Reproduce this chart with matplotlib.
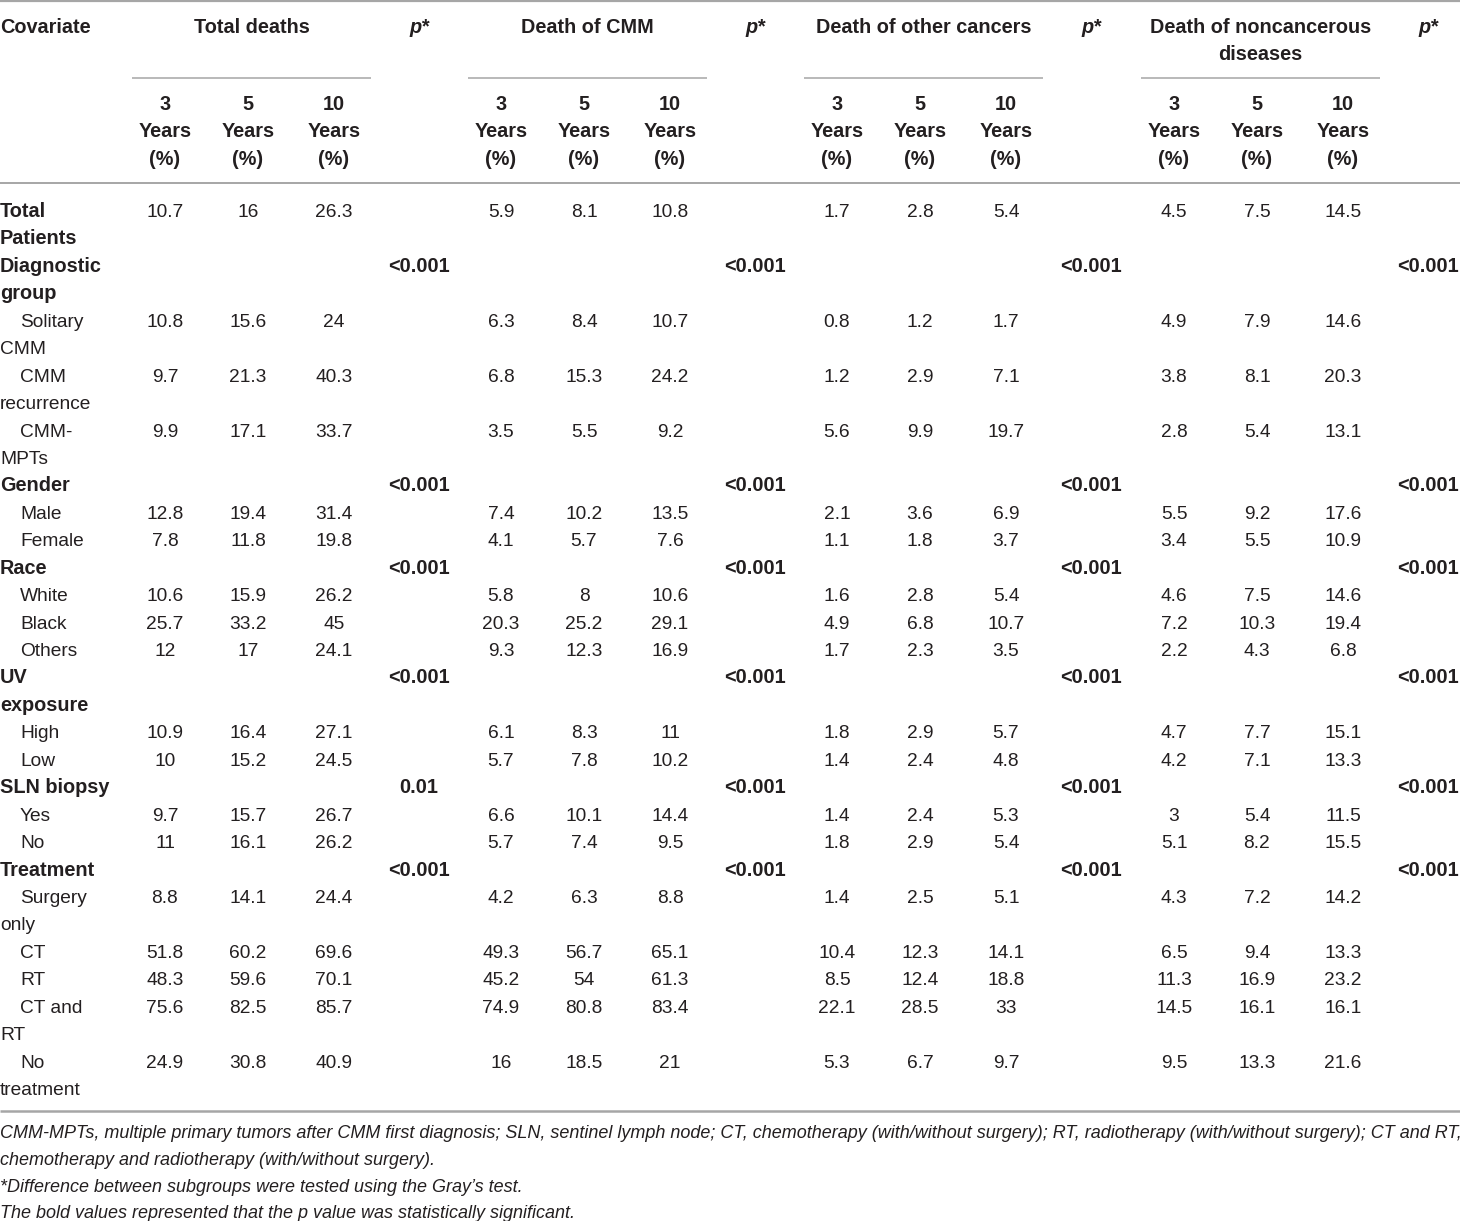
import matplotlib
matplotlib.use("Agg")
import matplotlib.pyplot as plt

plt.rcParams['font.family'] = ['Liberation Sans', 'DejaVu Sans']

# ---- data ----
groups = ["Total deaths", "Death of CMM", "Death of other cancers",
          "Death of noncancerous\ndiseases"]
years = ["3\nYears\n(%)", "5\nYears\n(%)", "10\nYears\n(%)"]

covariates = ["Total\nPatients", "Diagnostic\ngroup", "Solitary\nCMM", "CMM\nrecurrence",
              "CMM-\nMPTs", "Gender", "Male", "Female", "Race", "White", "Black", "Others",
              "UV\nexposure", "High", "Low", "SLN biopsy", "Yes", "No", "Treatment",
              "Surgery\nonly", "CT", "RT", "CT and\nRT", "No\ntreatment"]
is_heading = [True, True, False, False, False, True, False, False, True, False, False, False,
              True, False, False, True, False, False, True, False, False, False, False, False]

total_deaths = [(10.7, 16, 26.3), None, (10.8, 15.6, 24), (9.7, 21.3, 40.3), (9.9, 17.1, 33.7),
                None, (12.8, 19.4, 31.4), (7.8, 11.8, 19.8), None, (10.6, 15.9, 26.2),
                (25.7, 33.2, 45), (12, 17, 24.1), None, (10.9, 16.4, 27.1), (10, 15.2, 24.5),
                None, (9.7, 15.7, 26.7), (11, 16.1, 26.2), None, (8.8, 14.1, 24.4),
                (51.8, 60.2, 69.6), (48.3, 59.6, 70.1), (75.6, 82.5, 85.7), (24.9, 30.8, 40.9)]
death_cmm = [(5.9, 8.1, 10.8), None, (6.3, 8.4, 10.7), (6.8, 15.3, 24.2), (3.5, 5.5, 9.2),
             None, (7.4, 10.2, 13.5), (4.1, 5.7, 7.6), None, (5.8, 8, 10.6),
             (20.3, 25.2, 29.1), (9.3, 12.3, 16.9), None, (6.1, 8.3, 11), (5.7, 7.8, 10.2),
             None, (6.6, 10.1, 14.4), (5.7, 7.4, 9.5), None, (4.2, 6.3, 8.8),
             (49.3, 56.7, 65.1), (45.2, 54, 61.3), (74.9, 80.8, 83.4), (16, 18.5, 21)]
death_other = [(1.7, 2.8, 5.4), None, (0.8, 1.2, 1.7), (1.2, 2.9, 7.1), (5.6, 9.9, 19.7),
               None, (2.1, 3.6, 6.9), (1.1, 1.8, 3.7), None, (1.6, 2.8, 5.4),
               (4.9, 6.8, 10.7), (1.7, 2.3, 3.5), None, (1.8, 2.9, 5.7), (1.4, 2.4, 4.8),
               None, (1.4, 2.4, 5.3), (1.8, 2.9, 5.4), None, (1.4, 2.5, 5.1),
               (10.4, 12.3, 14.1), (8.5, 12.4, 18.8), (22.1, 28.5, 33), (5.3, 6.7, 9.7)]
death_noncancer = [(4.5, 7.5, 14.5), None, (4.9, 7.9, 14.6), (3.8, 8.1, 20.3), (2.8, 5.4, 13.1),
                   None, (5.5, 9.2, 17.6), (3.4, 5.5, 10.9), None, (4.6, 7.5, 14.6),
                   (7.2, 10.3, 19.4), (2.2, 4.3, 6.8), None, (4.7, 7.7, 15.1), (4.2, 7.1, 13.3),
                   None, (3, 5.4, 11.5), (5.1, 8.2, 15.5), None, (4.3, 7.2, 14.2),
                   (6.5, 9.4, 13.3), (11.3, 16.9, 23.2), (14.5, 16.1, 16.1), (9.5, 13.3, 21.6)]

p_sig = ("<0.001", "<0.001", "<0.001", "<0.001")
p_values = [None, p_sig, None, None, None, p_sig, None, None, p_sig, None, None, None,
            p_sig, None, None, ("0.01", "<0.001", "<0.001", "<0.001"), None, None, p_sig,
            None, None, None, None, None]

footnotes = [
    "CMM-MPTs, multiple primary tumors after CMM first diagnosis; SLN, sentinel lymph node; "
    "CT, chemotherapy (with/without surgery); RT, radiotherapy (with/without surgery); CT and RT,",
    "chemotherapy and radiotherapy (with/without surgery).",
    "*Difference between subgroups were tested using the Gray\u2019s test.",
    "The bold values represented that the p value was statistically significant.",
]

# ---- layout ----
W, H = 1460, 1221
fig = plt.figure(figsize=(W / 100, H / 100), dpi=100)
ax = fig.add_axes([0, 0, 1, 1])
ax.set_xlim(0, W)
ax.set_ylim(H, 0)
ax.axis('off')

ink = '#231f20'
rule = '#a6a6a6'
fs = 13.8      # regular
fsb = 14.3     # bold
pitch = 27.44
group_x0 = [132, 468, 804, 1141]
group_w = 239
col_off = [33, 116, 202]
p_off = 287

# rules
ax.hlines(1, 0, W, color=rule, lw=1.6)
ax.hlines(183, 0, W, color=rule, lw=1.4)
ax.hlines(1111, 0, W, color=rule, lw=1.8)
for gx in group_x0:
    ax.hlines(78, gx, gx + group_w, color=rule, lw=1.1)

# header
ax.text(0, 33, "Covariate", fontsize=fsb, weight='bold', color=ink, va='baseline', ha='left')
for g, gx in enumerate(group_x0):
    for k, line in enumerate(groups[g].split("\n")):
        ax.text(gx + group_w / 2, 33 + k * pitch, line, fontsize=fsb, weight='bold',
                color=ink, va='baseline', ha='center')
    ax.text(gx + p_off, 33, "p*", fontsize=fsb, weight='bold', style='italic',
            color=ink, va='baseline', ha='center')
    for c, lab in enumerate(years):
        for k, line in enumerate(lab.split("\n")):
            ax.text(gx + col_off[c], 110 + k * pitch, line, fontsize=fsb, weight='bold',
                    color=ink, va='baseline', ha='center')

# body
series = [total_deaths, death_cmm, death_other, death_noncancer]
line_no = 0
for i, lab in enumerate(covariates):
    y0 = 217 + line_no * pitch
    parts = lab.split("\n")
    for k, part in enumerate(parts):
        x = 0 if (is_heading[i] or k > 0) else 20
        ax.text(x, y0 + k * pitch, part, color=ink, va='baseline', ha='left',
                fontsize=fsb if is_heading[i] else fs,
                weight='bold' if is_heading[i] else 'normal')
    for g, gx in enumerate(group_x0):
        vals = series[g][i]
        if vals is not None:
            for c, v in enumerate(vals):
                ax.text(gx + col_off[c], y0, f"{v:g}", fontsize=fs, color=ink,
                        va='baseline', ha='center')
        if p_values[i] is not None:
            ax.text(gx + p_off, y0, p_values[i][g], fontsize=fsb, weight='bold', color=ink,
                    va='baseline', ha='center')
    line_no += len(parts)

# footnotes, first line fitted to the full width
fig.canvas.draw()
renderer = fig.canvas.get_renderer()
t = ax.text(0, 1138, footnotes[0], fontsize=12, style='italic', color=ink,
            va='baseline', ha='left')
wpx = t.get_window_extent(renderer).width
fn_fs = 12 * 1458 / wpx
t.set_fontsize(fn_fs)
for k, note in enumerate(footnotes[1:], start=1):
    ax.text(0, 1138 + k * 26.8, note, fontsize=fn_fs, style='italic', color=ink,
            va='baseline', ha='left')

fig.savefig("out.png", dpi=100)
